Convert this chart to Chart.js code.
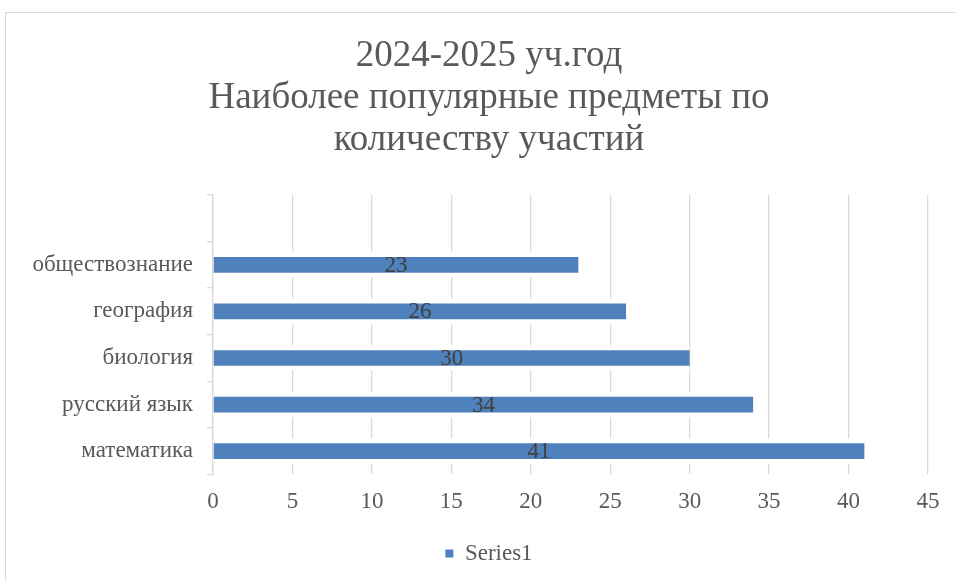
<!DOCTYPE html>
<html>
<head>
<meta charset="utf-8">
<script src="https://cdn.jsdelivr.net/npm/chart.js@4"></script>
<style>
  html, body { margin: 0; padding: 0; background: #fff; overflow: hidden; }
  #frame { position: absolute; left: 5px; top: 12px; width: 1000px; height: 1000px; border: 1px solid #d9d9d9; }
  #wrap { position: absolute; left: 0; top: 0; width: 955px; height: 581px; }
</style>
</head>
<body>
<div id="frame"></div>
<div id="wrap"><canvas id="subjectsChart"></canvas></div>
<script>
'use strict';

// Data (top row of the chart is an empty category)
var titleLines = ['2024-2025 уч.год', 'Наиболее популярные предметы по', 'количеству участий'];
var subjects = ['', 'обществознание', 'география', 'биология', 'русский язык', 'математика'];
var participations = [null, 23, 26, 30, 34, 41];
var seriesName = 'Series1';
var xMax = 45;
var xStep = 5;

var FONT = "'Liberation Serif', 'Times New Roman', serif";
var BAR_COLOR = '#4f81bd';

// Draw value labels in the middle of each bar
var centerLabels = {
    id: 'centerLabels',
    afterDatasetsDraw: function(chart) {
        var ctx = chart.ctx;
        var meta = chart.getDatasetMeta(0);
        ctx.save();
        ctx.font = '23px ' + FONT;
        ctx.fillStyle = '#404040';
        ctx.textAlign = 'center';
        ctx.textBaseline = 'middle';
        meta.data.forEach(function(bar, i) {
            var v = participations[i];
            if (v === null) return;
            var p = bar.getProps(['x', 'y', 'base'], true);
            ctx.fillText(String(v), (p.x + p.base) / 2, p.y + 1);
        });
        ctx.restore();
    }
};

var ctx = document.getElementById('subjectsChart');

var myChart = new Chart(ctx, {
    type: 'bar',
    data: {
        labels: subjects,
        datasets: [
            {
                label: seriesName,
                backgroundColor: BAR_COLOR,
                borderColor: '#ffffff',
                borderWidth: { top: 5, bottom: 5, left: 0, right: 0 },
                borderSkipped: false,
                barThickness: 25,
                data: participations
            }
        ]
    },
    plugins: [centerLabels],
    options: {
        indexAxis: 'y',
        responsive: true,
        maintainAspectRatio: false,
        animation: false,
        layout: {
            padding: { top: 30, left: 23, right: 0, bottom: 6 }
        },
        plugins: {
            title: {
                display: true,
                text: titleLines,
                color: '#595959',
                font: { family: FONT, size: 37, weight: 'normal', lineHeight: 1.135 },
                padding: { top: 5, bottom: 34 }
            },
            legend: {
                display: true,
                position: 'bottom',
                labels: {
                    color: '#595959',
                    font: { family: FONT, size: 23 },
                    boxWidth: 8,
                    boxHeight: 8,
                    padding: 10,
                    generateLabels: function() {
                        return [{
                            text: seriesName,
                            fillStyle: BAR_COLOR,
                            strokeStyle: BAR_COLOR,
                            lineWidth: 0,
                            hidden: false,
                            datasetIndex: 0,
                            fontColor: '#595959'
                        }];
                    }
                },
                onClick: null
            },
            tooltip: { enabled: false }
        },
        scales: {
            x: {
                min: 0,
                max: xMax,
                ticks: {
                    stepSize: xStep,
                    color: '#595959',
                    font: { family: FONT, size: 23 },
                    padding: 14
                },
                grid: {
                    color: '#d9d9d9',
                    lineWidth: 1.3,
                    drawTicks: false
                },
                border: { display: false },
                afterFit: function(scale) {
                    scale.height += 2;
                }
            },
            y: {
                ticks: {
                    color: '#595959',
                    font: { family: FONT, size: 23 },
                    padding: 14
                },
                grid: {
                    color: '#d9d9d9',
                    lineWidth: 1.3,
                    drawOnChartArea: false,
                    drawTicks: true,
                    tickLength: 6
                },
                border: { display: true, color: '#d9d9d9', width: 1.3 },
                afterFit: function(scale) {
                    scale.width = 190;
                }
            },
            // empty spacer on the right so the plot ends where the reference does
            yRight: {
                type: 'category',
                position: 'right',
                display: true,
                ticks: { display: false },
                grid: { display: false },
                border: { display: false },
                afterFit: function(scale) {
                    scale.width = 27;
                }
            }
        }
    }
});
</script>
</body>
</html>
